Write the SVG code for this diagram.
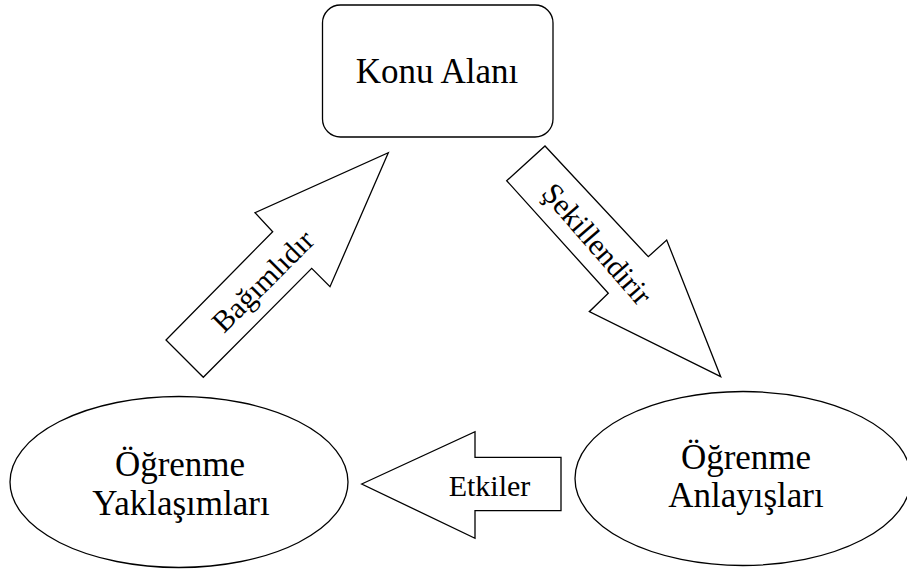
<svg xmlns="http://www.w3.org/2000/svg" width="907" height="569" viewBox="0 0 907 569">
  <style>
    .shape { fill: #ffffff; stroke: #000000; stroke-width: 1.3; stroke-linejoin: miter; }
    .lbl { font-family: "Liberation Serif", "Times New Roman", serif; fill: #000000; text-anchor: middle; }
    .big { font-size: 35px; }
    .small { font-size: 30px; }
  </style>
  <rect width="907" height="569" fill="#ffffff"/>

  <!-- block arrows between the three concepts -->
  <g id="connectors">
    <g id="arrow-bagimlidir">
      <polygon class="shape" points="388.3,152.7 330,286.7 311.7,268.3 203.3,377.3 166,340 272.7,231.7 255,212.7"/>
      <text class="lbl small" transform="translate(263,281) rotate(-45)" y="10">Bağımlıdır</text>
    </g>
    <g id="arrow-sekillendirir">
      <polygon class="shape" points="506.7,180.7 545,146 648.3,256.7 666.7,240 720.7,376.7 589.3,311.7 608.3,293.3"/>
      <text class="lbl small" transform="translate(597,244) rotate(49)" y="10">Şekillendirir</text>
    </g>
    <g id="arrow-etkiler">
      <polygon class="shape" points="361.7,484 475,431.7 475,457.3 561,457.3 561,510.7 475,510.7 475,538.3"/>
      <text class="lbl small" x="489.5" y="496">Etkiler</text>
    </g>
  </g>

  <g id="konu-alani">
    <rect class="shape" x="322.5" y="5" width="230.5" height="132" rx="18" ry="18"/>
    <text class="lbl big" x="437" y="83">Konu Alanı</text>
  </g>

  <g id="ogrenme-yaklasimlari">
    <ellipse class="shape" cx="179" cy="482" rx="169" ry="85.5"/>
    <text class="lbl big" x="180" y="476">Öğrenme</text>
    <text class="lbl big" x="181" y="515">Yaklaşımları</text>
  </g>

  <g id="ogrenme-anlayislari">
    <ellipse class="shape" cx="743" cy="478.5" rx="168" ry="87"/>
    <text class="lbl big" x="746" y="469">Öğrenme</text>
    <text class="lbl big" x="746" y="507">Anlayışları</text>
  </g>
</svg>
